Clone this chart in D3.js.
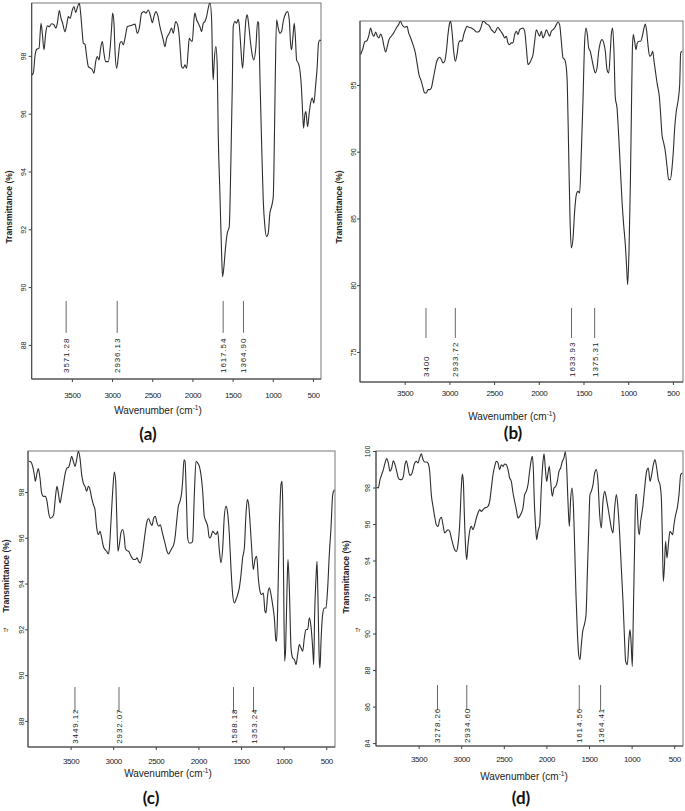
<!DOCTYPE html>
<html>
<head>
<meta charset="utf-8">
<script src="https://cdn.jsdelivr.net/npm/d3@7"></script>
<style>
  body { margin: 0; background: #fff; }
  svg { display: block; }
</style>
</head>
<body>
<svg id="chart" width="685" height="811"></svg>
<script>
// ---- data ----
const xTicks = [3500, 3000, 2500, 2000, 1500, 1000, 500];
const yTicksA = [88, 90, 92, 94, 96, 98];
const yTicksB = [75, 80, 85, 90, 95];
const yTicksC = [88, 90, 92, 94, 96, 98];
const yTicksD = [84, 86, 88, 90, 92, 94, 96, 98, 100];

const waveA = [4000,3980,3959,3938,3909,3884,3868,3847,3826,3805,3781,3752,3722,3698,3681,3656,3635,3615,3586,3565,3544,3523,3494,3474,3453,3428,3407,3391,3370,3358,3337,3316,3295,3266,3246,3225,3204,3184,3163,3142,3121,3101,3080,3047,3026,3005,2993,2976,2964,2943,2922,2902,2881,2860,2839,2810,2777,2744,2715,2686,2661,2632,2603,2578,2549,2520,2499,2479,2454,2433,2404,2383,2363,2342,2321,2288,2259,2238,2209,2184,2164,2147,2135,2114,2093,2072,2052,2039,2023,2002,1981,1969,1948,1927,1907,1886,1865,1844,1824,1803,1782,1761,1749,1741,1728,1708,1691,1679,1658,1637,1625,1608,1587,1567,1542,1521,1504,1492,1471,1450,1430,1417,1401,1376,1359,1334,1318,1297,1276,1252,1235,1210,1189,1177,1160,1140,1119,1098,1077,1057,1036,1015,994,982,970,953,932,912,891,870,837,816,795,779,766,746,733,717,704,683,663,642,630,617,601,588,567,547,530,509,489,468,447,431,414,397];
const transA = [97.34,97.40,98.0,98.23,98.27,99.13,98.78,98.21,98.78,99.04,99.01,99.11,99.07,98.96,99.13,99.57,99.30,99.13,98.84,99.07,99.36,99.30,99.59,99.71,99.50,99.71,99.82,99.48,98.78,98.44,98.40,97.98,97.63,97.57,97.52,97.40,97.80,97.98,97.86,98.27,98.50,98.09,97.80,97.80,98.21,99.01,99.48,99.13,98.21,97.57,97.98,98.44,98.50,98.38,98.61,99.01,99.04,99.07,99.10,98.78,98.96,99.48,99.53,99.48,99.59,99.36,99.15,99.36,99.53,99.42,99.01,98.78,98.55,98.32,98.61,98.78,98.96,98.78,99.19,99.07,98.67,98.03,97.63,97.57,97.69,97.57,98.21,98.61,98.55,98.50,99.25,99.48,99.25,99.13,99.01,98.84,99.13,99.19,99.36,99.65,99.85,99.25,97.63,97.17,97.86,98.32,97.63,95.32,93.25,91.17,90.36,90.71,91.40,91.86,92.09,94.40,96.94,99.01,99.19,99.13,99.27,99.07,98.44,97.57,98.21,99.25,99.42,99.01,98.44,97.98,97.86,98.32,99.19,99.13,97.28,95.09,93.02,92.09,91.75,91.86,92.56,92.79,93.13,94.75,97.05,99.25,98.96,98.78,98.84,99.19,99.48,99.53,99.25,98.44,98.21,98.78,99.13,98.55,97.86,97.75,97.52,96.82,96.13,95.50,95.96,96.07,95.55,96.02,96.36,96.54,96.36,96.94,97.63,98.44,98.55,98.52];

const waveB = [3993,3966,3948,3922,3899,3881,3862,3843,3825,3806,3788,3769,3750,3732,3713,3694,3676,3650,3623,3594,3568,3549,3526,3500,3474,3456,3433,3407,3381,3359,3340,3314,3295,3277,3258,3239,3221,3202,3183,3165,3146,3128,3109,3090,3072,3053,3034,3016,2997,2986,2971,2952,2934,2915,2896,2878,2859,2840,2822,2803,2781,2755,2725,2699,2680,2661,2643,2624,2606,2587,2568,2550,2531,2512,2494,2475,2456,2438,2419,2400,2382,2363,2345,2326,2307,2289,2270,2251,2233,2214,2195,2177,2158,2139,2121,2102,2084,2065,2046,2028,2009,1990,1972,1953,1934,1916,1897,1878,1860,1841,1823,1804,1785,1767,1748,1729,1711,1692,1681,1666,1651,1636,1617,1599,1580,1562,1543,1524,1506,1487,1472,1457,1442,1424,1405,1386,1368,1349,1330,1312,1293,1274,1256,1237,1218,1200,1189,1174,1159,1144,1125,1107,1088,1069,1051,1032,1017,1006,991,976,965,954,943,928,913,898,879,861,842,823,808,793,779,760,741,726,711,693,674,652,637,622,603,585,566,547,529,510,495,480,462,443,424,413,398];
const transB = [97.27,97.77,98.22,98.32,98.77,99.27,98.82,98.65,98.97,98.65,98.52,98.82,98.52,97.90,97.47,97.90,98.40,98.65,98.90,99.27,99.52,99.77,99.47,99.32,99.39,98.90,98.52,98.02,97.40,96.52,95.77,95.27,94.78,94.40,94.40,94.65,94.65,94.78,95.40,96.02,96.65,96.97,97.07,96.90,96.65,96.77,97.52,98.77,99.64,99.77,99.02,97.52,96.77,97.27,98.15,98.32,98.27,98.77,99.14,99.39,99.32,99.27,99.14,98.97,98.97,99.07,99.39,99.77,99.72,99.57,99.52,99.39,99.14,99.02,98.90,99.14,99.32,99.14,98.97,98.77,98.52,98.65,98.15,98.02,98.15,98.15,98.77,99.02,98.77,99.14,99.22,99.27,99.02,97.77,96.52,96.65,96.90,97.27,98.27,99.14,98.90,98.65,99.02,98.52,98.77,99.14,98.90,98.65,99.02,99.14,99.27,99.52,99.72,99.52,98.27,97.02,96.90,96.27,95.02,90.03,85.04,82.79,83.54,85.54,86.79,87.03,86.91,90.03,93.78,98.27,99.27,98.77,97.77,97.52,96.90,96.27,95.90,96.27,97.52,98.15,98.40,98.15,97.52,96.15,95.90,97.52,98.77,99.27,97.52,94.03,93.28,91.28,88.78,86.29,84.54,83.04,81.29,80.04,82.54,87.53,92.53,97.52,98.77,98.27,97.65,98.15,98.27,98.27,98.65,99.27,99.57,99.02,98.02,97.15,97.27,97.52,96.77,95.90,95.02,94.15,92.78,91.28,90.66,90.03,88.91,87.91,87.91,88.78,90.03,91.78,93.03,93.78,95.02,97.40,97.52];

const waveC = [3992,3965,3945,3926,3914,3894,3879,3859,3840,3820,3797,3777,3757,3738,3718,3699,3679,3660,3644,3624,3605,3585,3562,3542,3523,3503,3488,3468,3448,3429,3409,3390,3370,3351,3331,3312,3292,3272,3253,3233,3214,3194,3175,3155,3135,3116,3096,3077,3057,3045,3026,3006,2987,2971,2959,2944,2928,2909,2889,2869,2858,2838,2819,2799,2779,2760,2740,2721,2701,2682,2662,2643,2623,2603,2584,2564,2545,2525,2506,2486,2466,2447,2427,2408,2388,2369,2349,2330,2310,2290,2275,2255,2236,2216,2197,2185,2169,2157,2142,2126,2107,2087,2068,2048,2028,2009,1989,1970,1950,1931,1911,1891,1872,1852,1833,1813,1794,1774,1755,1735,1715,1696,1676,1657,1637,1618,1598,1578,1559,1539,1520,1500,1481,1461,1442,1426,1410,1395,1375,1356,1336,1316,1297,1277,1258,1238,1219,1207,1187,1168,1148,1129,1109,1090,1082,1070,1050,1031,1019,1011,1000,988,976,960,949,933,913,894,874,855,835,816,796,776,757,737,718,698,679,659,647,636,620,608,597,581,573,561,542,522,503,483,464,444,424,405];
const transC = [99.34,99.31,99.12,98.76,98.47,98.83,99.02,98.61,97.96,97.81,97.81,97.59,97.08,96.86,96.89,97.01,97.74,98.25,97.96,97.52,97.88,98.32,98.83,99.05,99.08,99.34,99.56,99.34,99.12,99.41,99.78,99.48,98.76,98.39,98.25,98.03,98.25,98.10,97.74,97.45,97.23,96.43,96.14,96.28,95.99,95.63,95.48,95.41,95.29,95.55,96.72,98.03,98.87,98.47,97.01,95.41,95.70,96.21,96.36,95.99,95.55,95.44,95.41,95.26,95.12,95.05,95.05,95.12,94.97,94.90,95.19,95.70,96.28,96.72,96.84,96.65,96.54,96.86,96.94,96.65,96.50,96.57,96.28,95.99,95.70,95.41,95.29,95.41,95.55,95.70,95.99,96.72,97.37,97.59,97.96,98.47,99.41,99.34,97.88,95.99,95.77,95.77,95.85,97.88,99.34,99.27,99.12,98.76,98.03,96.94,96.72,96.50,95.99,96.06,96.28,96.21,96.14,96.28,95.48,94.90,95.55,96.94,97.37,97.08,96.14,94.68,93.52,93.15,93.30,93.52,93.81,94.39,95.12,95.55,97.01,97.67,97.45,96.72,95.55,94.61,95.05,95.19,94.24,93.66,93.52,93.59,92.79,92.72,93.52,93.81,93.52,93.08,92.50,91.51,91.48,92.93,96.43,98.32,98.47,97.59,94.10,90.61,91.19,93.81,95.05,93.81,91.19,90.75,90.68,90.46,90.90,91.33,91.19,91.04,91.62,91.99,91.99,92.50,92.13,91.19,90.46,92.64,94.24,94.97,93.37,90.61,90.31,91.48,92.64,92.93,92.93,93.81,95.26,96.43,97.88,98.10];

const waveD = [3992,3973,3953,3934,3914,3894,3875,3855,3836,3816,3797,3777,3757,3738,3718,3699,3679,3660,3644,3624,3605,3585,3566,3546,3527,3507,3488,3468,3448,3429,3409,3390,3370,3351,3331,3312,3292,3272,3253,3233,3214,3194,3175,3155,3135,3116,3096,3077,3057,3038,3018,2999,2987,2975,2963,2948,2936,2920,2901,2881,2862,2842,2822,2803,2783,2764,2744,2725,2705,2686,2666,2646,2627,2607,2588,2568,2549,2529,2510,2490,2470,2451,2431,2412,2392,2373,2353,2334,2314,2294,2275,2255,2236,2216,2197,2177,2165,2154,2142,2126,2114,2099,2079,2060,2040,2028,2013,1997,1981,1966,1950,1931,1911,1891,1872,1852,1833,1813,1794,1778,1762,1747,1731,1715,1700,1684,1668,1653,1637,1621,1606,1590,1574,1555,1535,1520,1504,1489,1473,1453,1434,1414,1395,1375,1356,1336,1316,1297,1277,1258,1238,1219,1199,1179,1160,1140,1121,1101,1082,1070,1050,1031,1019,1007,992,980,964,953,941,925,910,894,870,847,824,804,784,765,745,726,706,687,667,651,640,628,616,601,585,565,550,534,518,503,483,464,444,424,405];
const transD = [98.01,97.97,98.43,98.70,98.98,99.34,99.58,99.34,98.89,99.07,99.47,99.25,98.89,98.52,98.43,98.43,98.61,99.25,99.47,99.07,98.67,98.70,98.98,99.34,99.43,99.34,99.62,99.84,99.53,99.40,99.40,99.34,98.89,97.61,96.97,96.42,95.96,95.87,96.24,96.37,95.96,95.51,95.60,95.69,95.60,95.23,94.87,94.59,94.50,94.87,95.96,97.97,98.74,98.34,96.51,94.69,94.05,94.87,95.60,95.87,95.69,95.96,96.33,96.60,96.79,96.69,96.79,96.88,96.91,96.97,97.24,97.97,98.70,99.16,99.43,99.34,98.98,99.25,99.16,99.29,99.25,98.98,98.52,98.34,97.70,97.24,96.79,96.33,96.42,96.60,96.88,97.61,97.79,98.16,98.89,99.53,99.71,99.07,97.24,95.78,95.14,95.60,95.96,97.97,99.43,99.84,99.07,98.34,98.79,99.16,98.34,97.52,97.97,98.06,98.34,98.89,99.07,99.43,99.62,99.95,99.07,97.24,95.87,97.42,97.97,97.06,94.69,92.13,90.12,88.84,88.57,89.39,90.12,90.48,91.03,93.22,95.60,97.61,97.79,98.16,98.79,98.98,98.34,96.51,95.78,97.24,97.79,97.42,96.88,96.33,95.78,95.51,96.88,97.61,96.88,95.42,93.59,91.76,89.57,88.47,88.29,89.75,90.21,89.57,88.20,91.03,95.05,97.61,97.61,95.96,95.42,96.15,96.88,97.97,98.89,99.07,98.34,98.70,99.25,99.53,99.07,98.43,98.16,97.42,95.42,92.86,93.59,95.05,94.14,95.05,95.60,95.51,95.42,95.96,96.51,96.88,97.61,98.70,98.79];

// peak markers: where the line sits, and the number printed under it
const peakPosA = [3571.28, 2936.13, 1617.54, 1364.90];
const peakLabelA = ["3571.28", "2936.13", "1617.54", "1364.90"];
const peakPosB = [3262, 2933.72, 1633.93, 1375.31];
const peakLabelB = ["3400", "2933.72", "1633.93", "1375.31"];
const peakPosC = [3449.12, 2932.07, 1588.18, 1353.24];
const peakLabelC = ["3449.12", "2932.07", "1588.18", "1353.24"];
const peakPosD = [3278.26, 2934.60, 1614.56, 1364.41];
const peakLabelD = ["3278.26", "2934.60", "1614.56", "1364.41"];

// ---- layout of the four panels ----
const panels = [
  { tag: "(a)", wave: waveA, trans: transA, yTicks: yTicksA, peaks: peakPosA, peakText: peakLabelA,
    left: 31.7, right: 321, top: 3, bottom: 379, wEnd: 400, tTop: 99.83, tBot: 86.82,
    peakHi: 89.52, peakLo: 88.42, peakBase: 87.03,
    yLabelX: 25.5, xLabelY: 398, xTitle: [158, 414], yTitle: [11.5, 207], tagPos: [148, 440] },
  { tag: "(b)", wave: waveB, trans: transB, yTicks: yTicksB, peaks: peakPosB, peakText: peakLabelB,
    left: 360, right: 683, top: 21, bottom: 382, wEnd: 387, tTop: 99.79, tBot: 72.75,
    peakHi: 78.30, peakLo: 76.05, peakBase: 73.13,
    yLabelX: 356, xLabelY: 396, xTitle: [512, 420], yTitle: [341.5, 207], tagPos: [513, 439] },
  { tag: "(c)", wave: waveC, trans: transC, yTicks: yTicksC, peaks: peakPosC, peakText: peakLabelC,
    left: 28, right: 335, top: 451, bottom: 747, wEnd: 397, tTop: 99.79, tBot: 86.86,
    peakHi: 89.48, peakLo: 88.39, peakBase: 87.0,
    yLabelX: 24, xLabelY: 764, xTitle: [168, 777], yTitle: [8.5, 576], tagPos: [151, 804], stub: [3, 632] },
  { tag: "(d)", wave: waveD, trans: transD, yTicks: yTicksD, peaks: peakPosD, peakText: peakLabelD,
    left: 376, right: 683, top: 451, bottom: 746, wEnd: 397, tTop: 100, tBot: 83.84,
    peakHi: 87.18, peakLo: 85.81, peakBase: 84.0,
    yLabelX: 369.5, xLabelY: 762, xTitle: [524, 780], yTitle: [348.5, 577], tagPos: [521, 804], stub: [355, 632] }
];

const svg = d3.select("#chart");
svg.append("rect").attr("width", 685).attr("height", 811).attr("fill", "#fff");

panels.forEach((p, i) => {
  const x = d3.scaleLinear().domain([4000, p.wEnd]).range([p.left, p.right]);
  const y = d3.scaleLinear().domain([p.tBot, p.tTop]).range([p.bottom, p.top]);
  const g = svg.append("g");

  g.append("clipPath").attr("id", "clip" + i)
    .append("rect")
    .attr("x", p.left).attr("y", p.top)
    .attr("width", p.right - p.left).attr("height", p.bottom - p.top);

  // frame
  g.append("rect")
    .attr("x", p.left).attr("y", p.top)
    .attr("width", p.right - p.left).attr("height", p.bottom - p.top)
    .attr("fill", "none").attr("stroke", "#777").attr("stroke-width", 1);
  g.append("line").attr("x1", p.left).attr("x2", p.left).attr("y1", p.top).attr("y2", p.bottom)
    .attr("stroke", "#444");
  g.append("line").attr("x1", p.left).attr("x2", p.right).attr("y1", p.bottom).attr("y2", p.bottom)
    .attr("stroke", "#444");

  // spectrum
  const pts = d3.zip(p.wave, p.trans);
  g.append("path")
    .datum(pts)
    .attr("clip-path", `url(#clip${i})`)
    .attr("fill", "none")
    .attr("stroke", "#2e2e2e")
    .attr("stroke-width", 1.1)
    .attr("stroke-linejoin", "round")
    .attr("d", d3.line().x(d => x(d[0])).y(d => y(d[1])).curve(d3.curveMonotoneX));

  // x axis
  const xa = g.append("g")
    .attr("transform", `translate(0,${p.bottom})`)
    .call(d3.axisBottom(x).tickValues(xTicks).tickSize(3).tickFormat(d3.format("d")));
  xa.select(".domain").remove();
  xa.selectAll(".tick line").attr("stroke", "#444");
  xa.selectAll(".tick text")
    .attr("y", p.xLabelY - p.bottom).attr("dy", null)
    .attr("font-family", "'Liberation Sans Narrow', 'Arial Narrow', sans-serif")
    .attr("font-size", 8).attr("letter-spacing", -0.4).attr("fill", "#222");

  // y axis with upright (rotated) numbers
  const ya = g.append("g")
    .attr("transform", `translate(${p.left},0)`)
    .call(d3.axisLeft(y).tickValues(p.yTicks).tickSize(3));
  ya.select(".domain").remove();
  ya.selectAll(".tick line").attr("stroke", "#444");
  ya.selectAll(".tick text")
    .attr("x", null).attr("dy", null)
    .attr("text-anchor", "middle")
    .attr("transform", `translate(${p.yLabelX - p.left},0) rotate(-90)`)
    .attr("font-family", "'Liberation Sans Narrow', 'Arial Narrow', sans-serif")
    .attr("font-size", 7).attr("fill", "#222");

  // peak markers
  g.selectAll(".peak").data(p.peaks).enter().append("line")
    .attr("x1", d => x(d)).attr("x2", d => x(d))
    .attr("y1", y(p.peakHi)).attr("y2", y(p.peakLo))
    .attr("stroke", "#666").attr("stroke-width", 1);
  g.selectAll(".peaklbl").data(p.peaks).enter().append("text")
    .attr("transform", d => `translate(${x(d) + 3},${y(p.peakBase)}) rotate(-90)`)
    .attr("font-family", "'Liberation Sans', Arial, sans-serif")
    .attr("font-size", 8).attr("letter-spacing", 0.9).attr("fill", "#222")
    .text((d, k) => p.peakText[k]);

  // axis titles
  const xt = g.append("text")
    .attr("x", p.xTitle[0]).attr("y", p.xTitle[1])
    .attr("text-anchor", "middle")
    .attr("font-family", "'Liberation Sans Narrow', 'Arial Narrow', sans-serif")
    .attr("font-size", 10).attr("fill", "#222");
  xt.append("tspan").text("Wavenumber (cm");
  xt.append("tspan").attr("font-size", 6.5).attr("dy", -4).text("-1");
  xt.append("tspan").attr("dy", 4).text(")");

  g.append("text")
    .attr("transform", `translate(${p.yTitle[0]},${p.yTitle[1]}) rotate(-90)`)
    .attr("text-anchor", "middle")
    .attr("font-family", "'Liberation Sans', Arial, sans-serif")
    .attr("font-weight", "bold").attr("font-size", 8.5).attr("fill", "#222")
    .text("Transmittance (%)");

  if (p.stub) {
    g.append("text").attr("x", p.stub[0]).attr("y", p.stub[1])
      .attr("font-family", "'Liberation Sans', Arial, sans-serif")
      .attr("font-size", 6).attr("fill", "#333").text("Tr");
  }

  g.append("text")
    .attr("x", p.tagPos[0]).attr("y", p.tagPos[1])
    .attr("text-anchor", "middle")
    .attr("font-family", "Lato, 'Open Sans', sans-serif")
    .attr("font-weight", "bold").attr("font-size", 17).attr("fill", "#111")
    .text(p.tag);
});
</script>
</body>
</html>
